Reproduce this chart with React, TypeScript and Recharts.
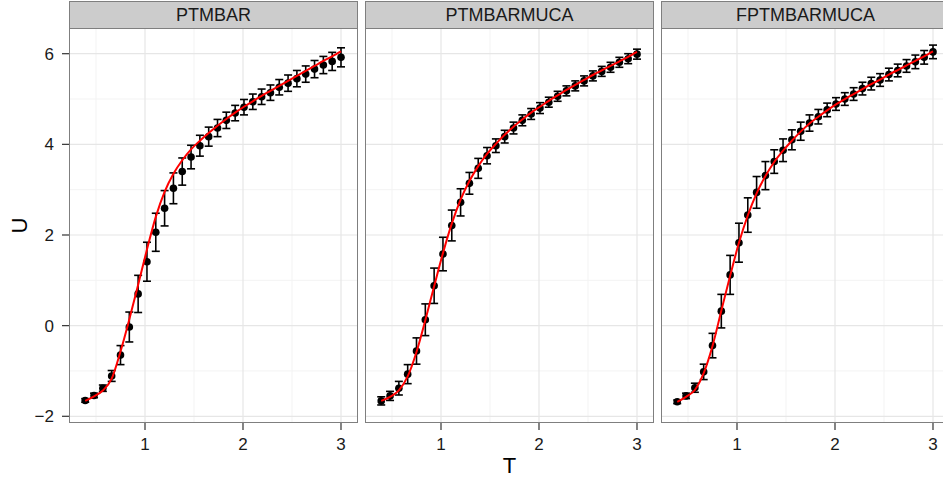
import React from 'react';
import { ComposedChart, Scatter, Line, XAxis, YAxis, CartesianGrid, ErrorBar } from 'recharts';

// ---------- data ----------
const PANEL_NAMES = ['PTMBAR', 'PTMBARMUCA', 'FPTMBARMUCA'];

const T_VALUES = [
  0.39, 0.48, 0.57, 0.66, 0.75, 0.84, 0.93, 1.02, 1.11, 1.2,
  1.29, 1.38, 1.47, 1.56, 1.65, 1.74, 1.83, 1.92, 2.01, 2.1,
  2.19, 2.28, 2.37, 2.46, 2.55, 2.64, 2.73, 2.82, 2.91, 3.0,
];

const PTMBAR_U = [
  -1.65, -1.54, -1.38, -1.11, -0.65, -0.03, 0.7, 1.41, 2.06, 2.59,
  3.03, 3.4, 3.72, 3.97, 4.17, 4.36, 4.53, 4.69, 4.82, 4.94,
  5.05, 5.14, 5.26, 5.35, 5.45, 5.55, 5.66, 5.75, 5.83, 5.92,
];
const PTMBAR_ERR = [
  0.04, 0.05, 0.07, 0.12, 0.21, 0.33, 0.41, 0.43, 0.42, 0.39,
  0.34, 0.3, 0.26, 0.23, 0.21, 0.19, 0.18, 0.17, 0.17, 0.17,
  0.17, 0.17, 0.17, 0.18, 0.18, 0.18, 0.19, 0.19, 0.2, 0.21,
];
const PTMBAR_FIT = [
  -1.66, -1.56, -1.43, -1.17, -0.57, 0.14, 0.9, 1.68, 2.4, 2.95,
  3.35, 3.65, 3.89, 4.08, 4.25, 4.41, 4.56, 4.7, 4.83, 4.95,
  5.07, 5.18, 5.29, 5.4, 5.51, 5.62, 5.73, 5.84, 5.94, 6.05,
];

const PTMBARMUCA_U = [
  -1.66, -1.55, -1.38, -1.07, -0.56, 0.13, 0.88, 1.58, 2.21, 2.72,
  3.14, 3.47, 3.75, 3.97, 4.17, 4.36, 4.53, 4.67, 4.8, 4.93,
  5.06, 5.18, 5.29, 5.4, 5.51, 5.61, 5.7, 5.81, 5.89, 5.99,
];
const PTMBARMUCA_ERR = [
  0.09, 0.1, 0.15, 0.21, 0.29, 0.35, 0.39, 0.37, 0.34, 0.3,
  0.24, 0.22, 0.18, 0.15, 0.14, 0.13, 0.12, 0.12, 0.12, 0.11,
  0.11, 0.11, 0.11, 0.11, 0.11, 0.11, 0.11, 0.11, 0.11, 0.11,
];
const PTMBARMUCA_FIT = [
  -1.66, -1.57, -1.43, -1.12, -0.58, 0.12, 0.87, 1.6, 2.25, 2.78,
  3.19, 3.52, 3.79, 4.01, 4.21, 4.39, 4.55, 4.7, 4.83, 4.96,
  5.08, 5.2, 5.31, 5.42, 5.53, 5.63, 5.73, 5.83, 5.93, 6.04,
];

const FPTMBARMUCA_U = [
  -1.68, -1.55, -1.37, -1.02, -0.44, 0.32, 1.12, 1.83, 2.44, 2.94,
  3.31, 3.62, 3.87, 4.1, 4.29, 4.47, 4.61, 4.76, 4.89, 5.0,
  5.11, 5.23, 5.34, 5.42, 5.54, 5.63, 5.73, 5.82, 5.92, 6.04,
];
const FPTMBARMUCA_ERR = [
  0.04, 0.06, 0.1, 0.17, 0.27, 0.37, 0.43, 0.43, 0.38, 0.35,
  0.31, 0.26, 0.25, 0.22, 0.2, 0.18, 0.16, 0.15, 0.14, 0.14,
  0.14, 0.14, 0.14, 0.14, 0.14, 0.14, 0.14, 0.15, 0.15, 0.15,
];
const FPTMBARMUCA_FIT = [
  -1.68, -1.57, -1.42, -1.05, -0.45, 0.33, 1.1, 1.83, 2.43, 2.92,
  3.3, 3.61, 3.86, 4.08, 4.28, 4.46, 4.61, 4.75, 4.88, 5.0,
  5.11, 5.22, 5.33, 5.43, 5.54, 5.64, 5.74, 5.84, 5.94, 6.05,
];

const X_TICKS = [1, 2, 3];
const X_MINOR = [0.5, 1.5, 2.5];
const Y_TICKS = [-2, 0, 2, 4, 6];
const Y_MINOR = [-1, 1, 3, 5];
const X_DOMAIN: [number, number] = [0.2245, 3.1735];
const Y_DOMAIN: [number, number] = [-2.148, 6.567];

const X_TITLE = 'T';
const Y_TITLE = 'U';

// ---------- layout ----------
const FONT = '"Liberation Sans", Arial, Helvetica, sans-serif';
const PLOT_TOP = 28;
const PLOT_H = 395;
const PLOT_W = 289;
const Y_AXIS_W = 69;
const X_AXIS_H = 50;
const PANEL_LEFTS = [69, 365, 661];

const dotShape = (props: any) => (
  <circle cx={props.cx} cy={props.cy} r={3.8} fill="#000" />
);

const fmtTick = (v: number) => (v < 0 ? '\u2212' + Math.abs(v) : String(v));

function Panel(props: { name: string; u: number[]; err: number[]; fit: number[]; left: number; showY: boolean }) {
  const { name, u, err, fit, left, showY } = props;
  const data = T_VALUES.map((t, i) => ({ T: t, U: u[i], err: err[i], fit: fit[i] }));
  const chartLeft = showY ? left - Y_AXIS_W : left;
  const width = showY ? PLOT_W + Y_AXIS_W : PLOT_W;
  return (
    <>
      <div
        style={{
          position: 'absolute',
          left: left,
          top: 1,
          width: PLOT_W,
          height: PLOT_TOP - 1,
          boxSizing: 'border-box',
          background: '#cccccc',
          border: '1px solid #7f7f7f',
          borderBottom: 'none',
          textAlign: 'center',
          fontFamily: FONT,
          fontSize: 18,
          lineHeight: '26px',
          color: '#1a1a1a',
        }}
      >
        {name}
      </div>
      <div style={{ position: 'absolute', left: chartLeft, top: PLOT_TOP }}>
        <ComposedChart
          width={width}
          height={PLOT_H + X_AXIS_H}
          data={data}
          margin={{ top: 0, right: 0, bottom: 0, left: 0 }}
        >
          <CartesianGrid
            stroke="#f3f3f3"
            strokeWidth={1}
            horizontalValues={Y_MINOR}
            verticalValues={X_MINOR}
          />
          <CartesianGrid
            stroke="#e6e6e6"
            strokeWidth={1.2}
            horizontalValues={Y_TICKS}
            verticalValues={X_TICKS}
          />
          <XAxis
            dataKey="T"
            type="number"
            domain={X_DOMAIN}
            ticks={X_TICKS}
            allowDataOverflow
            interval={0}
            height={X_AXIS_H}
            tickSize={7}
            tickMargin={8}
            axisLine={false}
            tickLine={{ stroke: '#333', strokeWidth: 1.2 }}
            tick={{ fill: '#1a1a1a', fontSize: 17, fontFamily: FONT }}
          />
          <YAxis
            type="number"
            domain={Y_DOMAIN}
            ticks={Y_TICKS}
            allowDataOverflow
            interval={0}
            hide={!showY}
            width={Y_AXIS_W}
            tickSize={7}
            tickMargin={8}
            axisLine={false}
            tickFormatter={fmtTick}
            tickLine={{ stroke: '#333', strokeWidth: 1.2 }}
            tick={{ fill: '#1a1a1a', fontSize: 17, fontFamily: FONT }}
          />
          <Scatter dataKey="U" isAnimationActive={false} shape={dotShape} fill="#000">
            <ErrorBar dataKey="err" direction="y" width={4} stroke="#000" strokeWidth={1.6} isAnimationActive={false} />
          </Scatter>
          <Line
            dataKey="fit"
            type="monotone"
            stroke="#ff0000"
            strokeWidth={2}
            dot={false}
            activeDot={false}
            isAnimationActive={false}
            zIndex={700}
          />
        </ComposedChart>
      </div>
      <div
        style={{
          position: 'absolute',
          left: left,
          top: PLOT_TOP,
          width: PLOT_W,
          height: PLOT_H,
          boxSizing: 'border-box',
          border: '1px solid #7f7f7f',
          pointerEvents: 'none',
        }}
      />
    </>
  );
}

export default function App() {
  const us = [PTMBAR_U, PTMBARMUCA_U, FPTMBARMUCA_U];
  const errs = [PTMBAR_ERR, PTMBARMUCA_ERR, FPTMBARMUCA_ERR];
  const fits = [PTMBAR_FIT, PTMBARMUCA_FIT, FPTMBARMUCA_FIT];
  const titleCenterX = (PANEL_LEFTS[0] + PANEL_LEFTS[2] + PLOT_W) / 2;
  return (
    <div
      style={{
        position: 'absolute',
        left: 0,
        top: 0,
        width: 943,
        height: 477,
        overflow: 'hidden',
        background: '#fff',
      }}
    >
      {PANEL_NAMES.map((name, i) => (
        <Panel
          key={name}
          name={name}
          u={us[i]}
          err={errs[i]}
          fit={fits[i]}
          left={PANEL_LEFTS[i]}
          showY={i === 0}
        />
      ))}
      <svg
        width={943}
        height={477}
        style={{ position: 'absolute', left: 0, top: 0, pointerEvents: 'none' }}
      >
        <text x={titleCenterX} y={473} textAnchor="middle" fontFamily={FONT} fontSize={22} fill="#000">
          {X_TITLE}
        </text>
        <text
          transform={`translate(27, ${PLOT_TOP + PLOT_H / 2}) rotate(-90)`}
          textAnchor="middle"
          fontFamily={FONT}
          fontSize={22}
          fill="#000"
        >
          {Y_TITLE}
        </text>
      </svg>
    </div>
  );
}
